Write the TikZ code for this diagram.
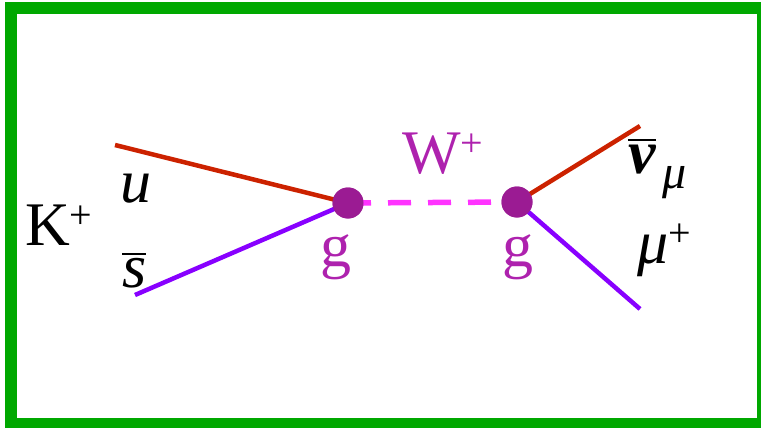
\documentclass[tikz,border=0pt]{standalone}
\usepackage{fontspec}
\setmainfont{Liberation Serif}
\usepackage{tikz}
\definecolor{framegreen}{HTML}{00A800}
\definecolor{quarkred}{HTML}{CC2200}
\definecolor{quarkviolet}{HTML}{8800FF}
\definecolor{vtxpurple}{HTML}{9B1B93}
\definecolor{wmagenta}{HTML}{FF33FF}
\definecolor{lblmagenta}{HTML}{AE22AE}
\newcommand\supplus{\raisebox{17pt}{\fontsize{40}{40}\selectfont +}}
\newcommand\barred[2]{\setbox0\hbox{#2}\rlap{\rule[#1]{\wd0}{2pt}}\box0}

\begin{document}
\begin{tikzpicture}[x=1pt, y=-1pt,
  lbl/.style={font=\fontsize{62}{70}\selectfont, anchor=base west, inner sep=0pt},
  vtx/.style={circle, fill=vtxpurple, minimum size=31pt, inner sep=0pt},
  fline/.style={line width=4.5pt}
]
\useasboundingbox (0,0) rectangle (761,428);
% Marco
\draw[framegreen, line width=12pt] (11,8) rectangle (763,424);

% Vertices y extremos
\coordinate (uin) at (115,145);
\coordinate (sin) at (135,295);
\coordinate (nuout) at (640,126);
\coordinate (muout) at (640,309);
\path (348,203) node[vtx] (v1) {};
\path (517,202) node[vtx] (v2) {};

% Lineas
\draw[fline, quarkred] (uin) -- (v1.center);
\draw[fline, quarkviolet] (sin) -- (v1.center);
\draw[wmagenta, line width=5.5pt, dash pattern=on 23pt off 17pt] (v1.center) -- (v2.center);
\draw[fline, quarkred] (v2.center) -- (nuout);
\draw[fline, quarkviolet] (v2.center) -- (muout);
\node[vtx] at (v1) {};
\node[vtx] at (v2) {};

% Etiquetas
\node[lbl] (kaon) at (25,245) {K\supplus};
\node[lbl] (uq) at (120,202) {\textit{u}};
\node[lbl] (sq) at (122,287) {\barred{32pt}{\textit{s}}};
\node[lbl, text=lblmagenta] (g1) at (320,266) {g};
\node[lbl, text=lblmagenta] (g2) at (502,266) {g};
\node[lbl, text=lblmagenta] (wb) at (402,173) {W\supplus};
\node[lbl] (nu) at (628,173) {\barred{32pt}{\textbf{\textit{ν}}}};
\node[lbl, font=\fontsize{48}{54}\selectfont] (nusub) at (662,188) {\textit{μ}};
\node[lbl] (muon) at (637,263) {\textit{μ}\supplus};
\end{tikzpicture}
\end{document}
